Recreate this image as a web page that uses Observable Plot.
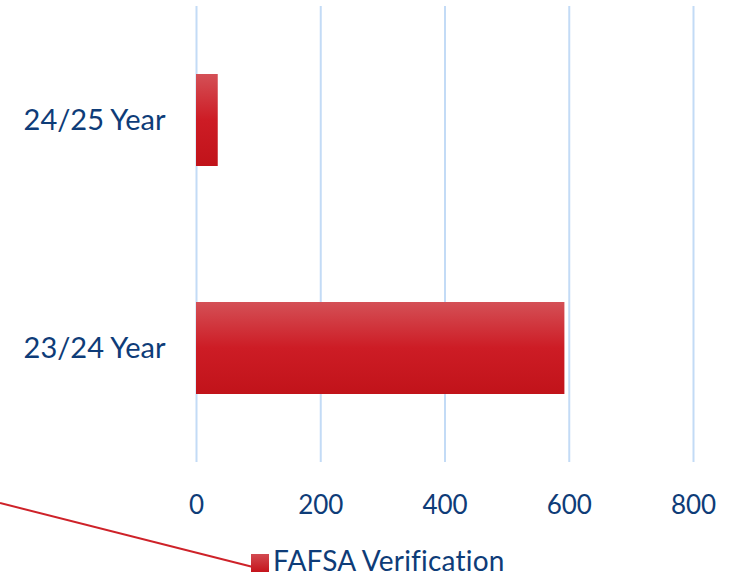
<!DOCTYPE html>
<html>
<head>
<meta charset="utf-8">
<script src="https://cdn.jsdelivr.net/npm/d3@7"></script>
<script src="https://cdn.jsdelivr.net/npm/@observablehq/plot@0.6"></script>
<style>
  html, body { margin: 0; padding: 0; background: #fff; }
  #wrap { position: relative; width: 742px; height: 578px; overflow: hidden; font-family: Lato, "Open Sans", sans-serif; }
  #legend { position: absolute; left: 251px; top: 546px; height: 28px; display: flex; align-items: center; color: #0E3C78; font-size: 28px; line-height: 28px; white-space: nowrap; letter-spacing: 0.2px; }
  #legend .sw { width: 18px; height: 18px; margin-top: 6px; margin-right: 4px; background: linear-gradient(#D24A50, #C5141C); flex: none; }
  #leader { position: absolute; left: 0; top: 0; pointer-events: none; }
</style>
</head>
<body>
<div id="wrap"></div>
<script>
const categories = ["24/25 Year", "23/24 Year"];
const seriesName = "FAFSA Verification";
const values = [35, 593];
const xTicks = [0, 200, 400, 600, 800];

const data = categories.map((c, i) => ({category: c, value: values[i]}));
const navy = "#0E3C78";

const defs = () => {
  const svgNS = "http://www.w3.org/2000/svg";
  const d = document.createElementNS(svgNS, "defs");
  d.innerHTML = `<linearGradient id="barGrad" x1="0" y1="0" x2="0" y2="1">
      <stop offset="0" stop-color="#D45056"/>
      <stop offset="0.5" stop-color="#CD1C25"/>
      <stop offset="1" stop-color="#C1131A"/>
    </linearGradient>`;
  return d;
};

const chart = Plot.plot({
  width: 742,
  height: 578,
  marginLeft: 196,
  marginRight: 49,
  marginTop: 6,
  marginBottom: 116,
  style: {fontFamily: "Lato, 'Open Sans', sans-serif", color: navy, background: "#fff"},
  x: {domain: [0, 800], ticks: xTicks, label: null},
  y: {domain: categories, paddingInner: 0.596, paddingOuter: 0.298, label: null},
  marks: [
    defs,
    Plot.gridX(xTicks, {stroke: "#C3DBF6", strokeOpacity: 1, strokeWidth: 2}),
    Plot.barX(data, {x: "value", y: "category", fill: "url(#barGrad)"}),
    Plot.axisX({ticks: xTicks, tickSize: 0, tickPadding: 33, fontSize: 26, fill: navy, label: null}),
    Plot.axisY({tickSize: 0, tickPadding: 31, fontSize: 29, fill: navy, label: null})
  ]
});

const wrap = document.getElementById("wrap");
wrap.appendChild(chart);

// leader line from left edge to legend swatch
const leader = d3.create("svg").attr("id", "leader").attr("width", 742).attr("height", 578);
leader.append("line").attr("x1", 0).attr("y1", 503).attr("x2", 253).attr("y2", 567)
  .attr("stroke", "#CE2229").attr("stroke-width", 2);
wrap.appendChild(leader.node());

const legend = document.createElement("div");
legend.id = "legend";
legend.innerHTML = `<span class="sw"></span><span>${seriesName}</span>`;
wrap.appendChild(legend);
</script>
</body>
</html>
